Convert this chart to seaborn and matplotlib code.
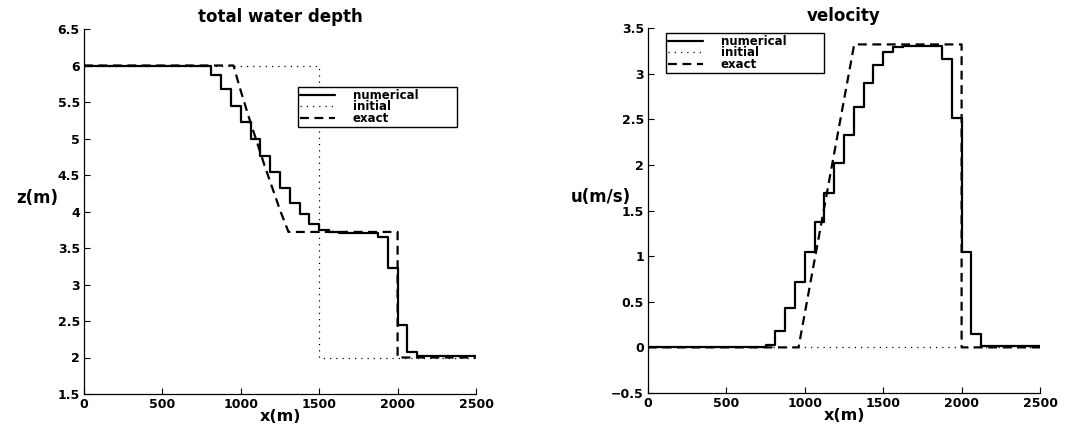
import matplotlib
matplotlib.use("Agg")
import matplotlib.pyplot as plt
import seaborn as sns

# cell edges of the numerical solution (m); last value repeated for steps-post
x_edges = [0, 750, 812.5, 875, 937.5, 1000, 1062.5, 1125, 1187.5, 1250,
           1312.5, 1375, 1437.5, 1500, 1562.5, 1625, 1875, 1937.5, 2000,
           2062.5, 2125, 2500]
depth_numerical = [6.0, 5.99, 5.87, 5.68, 5.45, 5.22, 4.99, 4.76, 4.54, 4.32,
                   4.12, 3.96, 3.83, 3.75, 3.72, 3.70, 3.65, 3.22, 2.45, 2.08,
                   2.02, 2.02]
velocity_numerical = [0.0, 0.03, 0.18, 0.43, 0.72, 1.04, 1.37, 1.69, 2.02, 2.33,
                      2.63, 2.90, 3.10, 3.24, 3.29, 3.30, 3.16, 2.51, 1.05, 0.15,
                      0.01, 0.01]

depth_initial_x = [0, 1500, 1500, 2500]
depth_initial = [6.0, 6.0, 2.0, 2.0]
velocity_initial_x = [0, 2500]
velocity_initial = [0.0, 0.0]

depth_exact_x = [0, 953, 1000, 1050, 1100, 1150, 1200, 1250, 1304, 2000, 2000, 2500]
depth_exact = [6.0, 6.0, 5.65, 5.30, 4.97, 4.64, 4.33, 4.02, 3.72, 3.72, 2.0, 2.0]
velocity_exact_x = [0, 960, 1315, 2000, 2000, 2500]
velocity_exact = [0.0, 0.0, 3.32, 3.32, 0.0, 0.0]

x_ticks = [0, 500, 1000, 1500, 2000, 2500]
depth_ticks = [1.5, 2, 2.5, 3, 3.5, 4, 4.5, 5, 5.5, 6, 6.5]
velocity_ticks = [-0.5, 0, 0.5, 1, 1.5, 2, 2.5, 3, 3.5]

sns.set_style("ticks")
plt.rcParams["font.family"] = ["DejaVu Sans"]
plt.rcParams["font.weight"] = "bold"
plt.rcParams["text.color"] = "black"
plt.rcParams["axes.labelcolor"] = "black"


def draw_panel(ax, num, init_x, init, exact_x, exact, ticks, title, ylabel, legend_box):
    sns.lineplot(x=x_edges, y=num, ax=ax, color="black", linewidth=1.6,
                 drawstyle="steps-post", estimator=None, sort=False, label="numerical")
    sns.lineplot(x=init_x, y=init, ax=ax, color="black", linewidth=0.9,
                 linestyle=(0, (1, 4)), estimator=None, sort=False, label="initial")
    sns.lineplot(x=exact_x, y=exact, ax=ax, color="black", linewidth=1.6,
                 linestyle=(0, (4, 2.5)), estimator=None, sort=False, label="exact")

    ax.set_xlim(x_ticks[0], x_ticks[-1])
    ax.set_ylim(ticks[0], ticks[-1])
    ax.set_xticks(x_ticks)
    ax.set_xticklabels([f"{t:g}" for t in x_ticks])
    ax.set_yticks(ticks)
    ax.set_yticklabels([f"{t:g}".replace("-", "\u2212") for t in ticks])
    ax.tick_params(direction="in", length=4, width=0.8, labelsize=9, pad=3, colors="black")
    for lab in ax.get_xticklabels() + ax.get_yticklabels():
        lab.set_fontweight("bold")

    ax.set_title(title, fontsize=12, fontweight="bold", pad=5, color="black")
    ax.set_xlabel("x(m)", fontsize=11.5, fontweight="bold", va="top", color="black")
    ax.set_ylabel(ylabel, fontsize=12, fontweight="bold", rotation=0,
                  ha="center", va="center", color="black")
    ax.xaxis.set_label_coords(0.5, -0.042)
    ax.yaxis.set_label_coords(-0.12, 0.537)

    sns.despine(ax=ax)
    for s in ("left", "bottom"):
        ax.spines[s].set_linewidth(0.9)
        ax.spines[s].set_color("black")

    leg = ax.legend(loc="upper left", bbox_to_anchor=legend_box, mode="expand",
                    fontsize=8.5, frameon=True, fancybox=False, framealpha=1,
                    edgecolor="black", borderpad=0.15, labelspacing=-0.12,
                    handlelength=3.0, handletextpad=1.5, borderaxespad=0)
    leg.get_frame().set_linewidth(1.0)
    for t in leg.get_texts():
        t.set_fontweight("bold")
        t.set_color("black")


fig = plt.figure(figsize=(10.88, 4.25), dpi=100)
ax1 = fig.add_axes([84 / 1088, 31 / 425, 392 / 1088, 365 / 425])
ax2 = fig.add_axes([648 / 1088, 32 / 425, 392 / 1088, 365 / 425])

draw_panel(ax1, depth_numerical, depth_initial_x, depth_initial,
           depth_exact_x, depth_exact, depth_ticks,
           "total water depth", "z(m)", (0.546, 0.841, 0.405, 0.0))
draw_panel(ax2, velocity_numerical, velocity_initial_x, velocity_initial,
           velocity_exact_x, velocity_exact, velocity_ticks,
           "velocity", "u(m/s)", (0.046, 0.986, 0.404, 0.0))

fig.savefig("out.png", dpi=100, facecolor="white")
